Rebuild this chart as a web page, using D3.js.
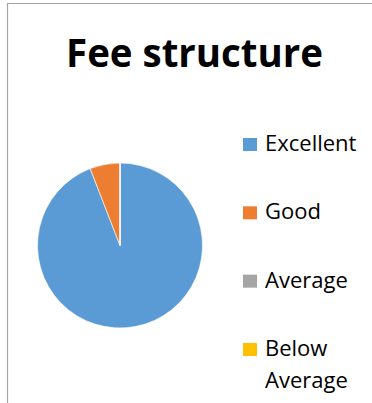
<!DOCTYPE html>
<html>
<head>
<meta charset="utf-8">
<script src="https://cdn.jsdelivr.net/npm/d3@7/dist/d3.min.js"></script>
<style>
  html, body { margin: 0; padding: 0; background: #fff; }
  svg { display: block; }
</style>
</head>
<body>
<div id="chart"></div>
<script>
// chart data
var title = "Fee structure";
var categories = ["Excellent", "Good", "Average", "Below Average"];
var counts = [16, 1, 0, 0];
var colors = ["#5B9BD5", "#ED7D31", "#A5A5A5", "#FFC000"];

(function() {
    var width = 372,
        height = 403;

    var svg = d3.select("#chart")
        .append("svg")
        .attr("width", width)
        .attr("height", height);

    // chart frame (only left + top edges visible in the crop)
    svg.append("path")
        .attr("d", "M7.5," + height + "V3.5H" + width)
        .attr("fill", "none")
        .attr("stroke", "#a6a6a6")
        .attr("stroke-width", 1.2);

    // title, sized to fit the reference width
    var titleText = svg.append("text")
        .attr("x", 194.5)
        .attr("y", 67)
        .attr("text-anchor", "middle")
        .style("font-family", "'Open Sans', 'Noto Sans', sans-serif")
        .style("font-weight", "bold")
        .style("font-size", "34px")
        .style("fill", "#000")
        .text(title);
    var tw = titleText.node().getComputedTextLength();
    titleText.style("font-size", (34 * 257 / tw).toFixed(2) + "px");

    // pie
    var cx = 120, cy = 245.5, r = 82.5;

    var pie = d3.pie().sort(null).value(function(d) { return d; });
    var arc = d3.arc().innerRadius(0).outerRadius(r);
    var color = d3.scaleOrdinal().domain(categories).range(colors);

    var g = svg.append("g").attr("transform", "translate(" + cx + "," + cy + ")");
    g.selectAll("path")
        .data(pie(counts))
        .enter().append("path")
        .attr("d", arc)
        .attr("fill", function(d, i) { return color(categories[i]); })
        .attr("stroke", "#fff")
        .attr("stroke-width", 0.6);

    // legend
    var legendY = d3.scalePoint().domain(categories).range([151, 356]);

    var items = svg.selectAll(".legend")
        .data(categories)
        .enter().append("g")
        .attr("class", "legend")
        .attr("transform", function(d) { return "translate(243," + legendY(d) + ")"; });

    items.append("rect")
        .attr("x", 0)
        .attr("y", -13)
        .attr("width", 14)
        .attr("height", 13)
        .attr("fill", function(d) { return color(d); });

    items.append("text")
        .attr("x", 22)
        .attr("y", 0)
        .style("font-family", "'Open Sans', 'Noto Sans', sans-serif")
        .style("font-size", "22px")
        .style("fill", "#000")
        .each(function(d) {
            var words = d.split(" ");
            var t = d3.select(this);
            words.forEach(function(w, k) {
                t.append("tspan")
                    .attr("x", 22)
                    .attr("dy", k === 0 ? 0 : 32)
                    .text(w);
            });
        });
})();
</script>
</body>
</html>
